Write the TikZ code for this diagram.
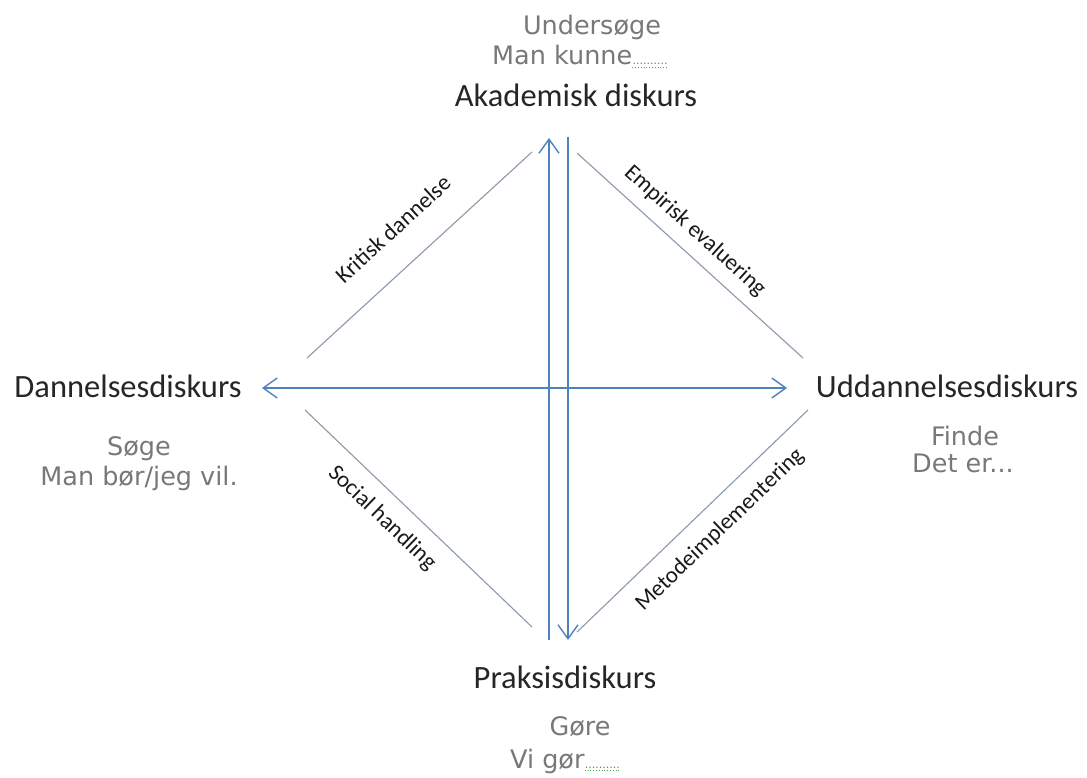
\documentclass[tikz,border=0pt]{standalone}
\usepackage{fontspec}
\setmainfont{Carlito}
\newfontfamily\handfont{DejaVu Sans}
\usetikzlibrary{arrows.meta}
\definecolor{arrowblue}{RGB}{79,129,189}
\definecolor{diaggrey}{RGB}{140,152,172}
\definecolor{handgrey}{RGB}{120,120,120}
\definecolor{spellgreen}{RGB}{80,170,80}
\tikzset{
  x=1pt, y=-1pt,
  disc/.style={inner sep=0pt, font=\fontsize{32.5}{34}\selectfont, text=black!85},
  hand/.style={inner sep=0pt, font=\handfont\fontsize{25.5}{27}\selectfont, text=handgrey},
  dots/.style={inner sep=0pt, font=\handfont\fontsize{11}{12}\selectfont, text=handgrey},
  edgelbl/.style={inner sep=0pt, font=\fontsize{23}{25}\selectfont, text=black!90},
  axis/.style={draw=arrowblue, line width=1.4pt, -{Straight Barb[length=14pt,width=20pt,line width=1.4pt]}},
  diag/.style={draw=diaggrey, line width=1.1pt},
  squiggle/.style={draw=spellgreen, line width=0.8pt, dotted},
}
\begin{document}
\begin{tikzpicture}
\useasboundingbox (0,0) rectangle (1087,778);
% main labels
\node[disc, anchor=base] (ak) at (576,107) {Akademisk diskurs};
\node[disc, anchor=base] (dan) at (128,397) {Dannelsesdiskurs};
\node[disc, anchor=base] (udd) at (947,397) {Uddannelsesdiskurs};
\node[disc, anchor=base] (pra) at (565,688) {Praksisdiskurs};
% hand-written grey labels
\node[hand, anchor=base] (und) at (592,35) {Undersøge};
\node[hand, anchor=base west] (mk) at (492,65) {Man kunne};
\node[dots, anchor=base west] (mkd) at (mk.base east) {..........};
\draw[squiggle] ([yshift=-2pt]mkd.south west) -- ([yshift=-2pt]mkd.south east);
\node[hand, anchor=base] (soge) at (139,455) {Søge};
\node[hand, anchor=base] (manbor) at (139,485) {Man bør/jeg vil.};
\node[hand, anchor=base] (finde) at (965,445) {Finde};
\node[hand, anchor=base] (deter) at (963,472) {Det er...};
\node[hand, anchor=base] (gore) at (580,735) {Gøre};
\node[hand, anchor=base west] (vigor) at (510,768) {Vi gør};
\node[dots, anchor=base west] (vgd) at (vigor.base east) {..........};
\draw[squiggle] ([yshift=-2pt]vgd.south west) -- ([yshift=-2pt]vgd.south east);
% axis end points
\coordinate (upL) at (549,138);
\coordinate (dnL) at (549,640);
\coordinate (upR) at (568,137);
\coordinate (dnR) at (568,640);
\coordinate (hL) at (262,388);
\coordinate (hR) at (787,388);
\coordinate (hM) at (524,388);
% axes
\draw[axis] (dnL) -- (upL);
\draw[axis] (upR) -- (dnR);
\draw[axis] (hM) -- (hL);
\draw[axis] (hM) -- (hR);
% diagonal end points
\coordinate (d1a) at (307,358);
\coordinate (d1b) at (532,152);
\coordinate (d2a) at (577,153);
\coordinate (d2b) at (803,358);
\coordinate (d3a) at (305,410);
\coordinate (d3b) at (532,627);
\coordinate (d4a) at (808,410);
\coordinate (d4b) at (577,632);
\draw[diag] (d1a) -- (d1b);
\draw[diag] (d2a) -- (d2b);
\draw[diag] (d3a) -- (d3b);
\draw[diag] (d4a) -- (d4b);
% edge labels
\node[edgelbl, rotate=42.5] (kd) at (393,229) {Kritisk dannelse};
\node[edgelbl, rotate=-42.2] (ee) at (695,231) {Empirisk evaluering};
\node[edgelbl, rotate=-43.7] (sh) at (382,518) {Social handling};
\node[edgelbl, rotate=43.9] (mi) at (720,530) {Metodeimplementering};
\end{tikzpicture}
\end{document}
